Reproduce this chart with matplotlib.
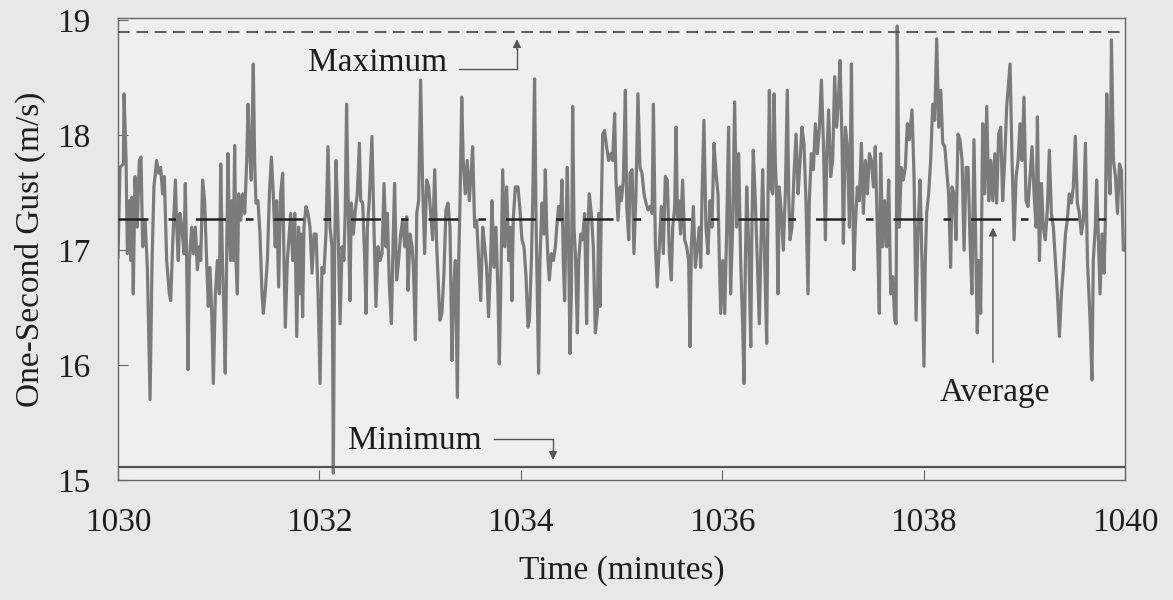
import matplotlib.pyplot as plt

# one-second gust record
# time in seconds after minute 1030, gust in m/s
t_sec = [
    0, 1.2, 3.2, 3.6, 4.8, 5.6, 6.8, 7.7, 8.3, 9.1, 10.1, 11.5, 12.7, 13.7, 14.7, 16.1,
    17.5, 19.1, 20.3, 21.4, 23.0, 24.2, 25.4, 26.6, 27.6, 29.0, 30.6, 31.4, 32.6, 34.2,
    35.0, 35.9, 36.9, 38.1, 39.3, 40.1, 40.9, 41.7, 42.5, 43.9, 44.9, 46.1, 47.3, 48.5,
    49.3, 50.4, 51.6, 52.8, 53.8, 54.8, 55.8, 56.8, 58.0, 59.2, 60.4, 61.2, 62.2, 63.1,
    63.9, 64.7, 65.5, 66.3, 67.1, 67.9, 68.7, 69.5, 70.3, 71.1, 71.9, 73.1, 74.3, 75.5,
    76.7, 77.5, 78.2, 79.4, 80.6, 81.4, 82.2, 83.4, 84.6, 85.8, 86.6, 87.8, 89.0, 90.2,
    91.4, 92.5, 93.7, 94.5, 95.7, 96.9, 98.1, 98.9, 99.7, 100.9,
    102.9, 104.1, 105.3, 106.5, 107.6, 108.4, 109.2, 110.0, 110.8, 112.0, 113.2, 114.4,
    115.6, 116.8, 118.0, 119.2, 120.4, 121.5, 122.7, 123.9, 125.1, 126.3, 127.5, 128.3,
    129.1, 129.9, 131.1, 132.3, 133.5, 134.6, 135.4, 136.2, 137.2, 138.2, 139.0, 140.2,
    141.4, 142.6, 143.8, 144.6, 145.8, 147.0, 147.8, 148.6, 149.7, 151.3, 152.5, 153.7,
    154.9, 156.1, 157.3, 158.5, 159.7, 160.5, 161.7, 162.9, 164.0, 164.8, 166.0, 167.2,
    168.4, 169.6, 170.8, 172.0, 172.8, 174.0, 175.2, 176.0, 177.2, 178.0, 179.1, 180.3,
    181.5, 182.7, 183.9, 185.1, 186.3, 187.5, 188.7, 189.9, 191.1, 191.8, 193.0, 194.2,
    195.4, 196.6, 197.8, 199.0, 199.8, 201.0, 202.2, 203.0,
    203.8, 204.8, 205.7, 206.9, 208.1, 209.3, 210.5, 211.3, 212.5, 213.7, 214.9, 216.1,
    217.3, 218.5, 219.6, 220.8, 222.0, 222.8, 224.0, 225.2, 226.4, 227.2, 228.0, 229.2,
    230.4, 231.6, 232.8, 233.9, 234.7, 235.5, 236.7, 238.3, 239.5, 240.7, 241.9, 243.1,
    244.3, 245.1, 246.3, 247.1, 248.2, 249.0, 249.8, 250.6, 251.4, 252.6, 253.8, 254.6,
    255.4, 256.2, 257.0, 258.2, 259.4, 260.6, 261.4, 262.5, 263.7, 264.5, 265.3, 266.1,
    266.9, 267.7, 268.5, 269.3, 270.1, 270.9, 271.7, 272.5, 273.7, 274.5, 275.7, 276.8,
    278.0, 279.2, 280.0, 280.8, 282.0, 283.2, 284.4, 285.6, 286.4, 287.2, 287.9, 288.8,
    289.9, 291.1, 292.3, 293.5, 294.7, 295.9, 296.7, 297.9, 299.1, 299.9, 301.1, 302.3,
    303.1, 304.3,
    305.1, 306.3, 307.4, 308.6, 309.8, 311.0, 312.2, 313.4, 314.6, 315.8, 317.0, 318.2,
    319.0, 320.2, 321.3, 322.5, 323.7, 324.9, 326.1, 327.3, 328.5, 329.7, 330.5, 331.7,
    332.5, 333.3, 334.1, 335.2, 336.4, 337.6, 338.8, 340.0, 340.8, 341.6, 342.8, 344.0,
    345.2, 346.4, 347.2, 348.0, 349.1, 350.3, 351.5, 352.7, 353.9, 355.1, 356.3, 357.5,
    358.3, 359.1, 360.3, 361.5, 362.7, 363.8, 365.0, 366.2, 367.4, 368.6, 369.8, 371.0,
    372.2, 373.0, 373.8, 374.6, 375.8, 377.0, 377.7, 378.5, 379.7, 380.9, 382.1, 383.3,
    384.1, 385.3, 386.5, 387.3, 388.1, 388.9, 390.1, 390.9, 391.6, 392.4, 393.2, 394.0,
    395.2, 396.4, 397.6, 398.8, 399.6, 400.4, 401.6, 402.8, 404.0, 405.2,
    406.4, 407.5, 408.7, 409.9, 411.1, 411.9, 413.1, 414.3, 415.5, 416.7, 417.9, 419.1,
    420.3, 421.5, 422.2, 423.4, 424.6, 425.8, 427.0, 428.2, 429.4, 430.2, 431.4, 432.2,
    433.4, 434.6, 435.8, 437.0, 437.7, 438.5, 439.3, 440.5, 441.7, 442.9, 444.1, 445.3,
    446.5, 447.7, 448.9, 450.1, 451.2, 452.4, 453.6, 454.4, 455.6, 456.8, 458.0, 459.2,
    460.4, 461.6, 462.8, 463.6, 464.3, 465.5, 466.7, 467.9, 469.1, 470.3, 471.5, 473.1,
    474.3, 475.5, 476.7, 477.9, 479.0, 480.2, 481.0, 481.8, 483.0, 484.2, 485.4, 486.6,
    487.8, 489.0, 490.2, 491.4, 492.6, 493.7, 494.9, 496.1, 496.9, 498.1, 499.3, 500.5,
    501.7, 502.9, 504.1, 505.3, 506.5,
    507.7, 508.8, 510.0, 511.2, 512.0, 512.8, 514.0, 515.2, 516.4, 517.6, 518.8, 520.0,
    521.2, 522.4, 523.5, 524.7, 525.9, 527.1, 528.3, 529.5, 531.5, 532.7, 533.9, 535.1,
    536.3, 537.4, 538.6, 539.8, 541.0, 542.2, 543.4, 544.6, 545.8, 547.0, 547.8, 549.0,
    550.2, 551.3, 552.5, 553.7, 554.9, 556.1, 557.3, 558.5, 559.7, 560.9, 562.1, 563.3,
    564.5, 565.6, 566.8, 568.0, 569.2, 570.4, 571.6, 572.8, 574.0, 575.2, 576.4, 577.6,
    579.2, 580.3, 581.1, 582.3, 583.1, 584.3, 585.1, 586.3, 587.5, 588.3, 589.1, 590.3,
    591.1, 591.9, 593.1, 594.3, 595.5, 596.7, 597.8, 599.0, 600.0,
]
gust = [
    16.94, 17.72, 17.75, 18.36, 17.78, 16.97, 17.43, 16.91, 17.46, 16.62, 17.64, 17.20, 17.78, 17.81, 17.03, 17.26,
    16.85, 15.70, 16.91, 17.55, 17.78, 17.67, 17.72, 17.49, 17.64, 16.91, 16.62, 16.56, 17.06, 17.61,
    17.20, 16.91, 17.32, 17.20, 16.97, 17.58, 16.91, 15.96, 16.91, 17.20, 16.97, 17.20, 16.83, 17.03,
    16.91, 17.61, 17.43, 16.91, 16.51, 16.85, 16.48, 15.84, 16.62, 16.91, 16.62, 17.75, 16.91, 16.45,
    15.93, 16.91, 17.84, 17.20, 16.91, 17.43, 16.91, 17.91, 16.91, 16.62, 17.49, 17.26, 17.49, 17.32,
    17.78, 18.27, 17.93, 17.61, 18.62, 17.78, 17.41, 17.43, 17.14, 16.62, 16.45, 16.65, 16.91, 17.49,
    17.81, 17.49, 17.03, 17.43, 16.68, 17.49, 17.67, 16.91, 16.33, 16.91,
    17.32, 16.91, 17.32, 16.25, 17.20, 16.62, 17.14, 16.42, 17.20, 17.38, 17.32, 17.20,
    16.80, 17.14, 17.14, 16.62, 15.84, 16.85, 16.80, 17.14, 17.90, 17.20, 17.03, 15.06,
    17.03, 17.78, 17.20, 16.36, 17.03, 16.91, 17.35, 18.27, 17.35, 16.56, 17.41, 17.14,
    17.35, 17.49, 17.93, 17.43, 17.41, 16.91, 16.45, 17.20, 17.43, 17.99, 17.20, 16.51,
    17.03, 16.91, 16.97, 17.58, 17.03, 17.32, 16.68, 16.36, 17.14, 17.58, 16.74, 16.91,
    17.14, 17.26, 17.03, 17.29, 16.65, 17.14, 17.03, 16.85, 16.22, 17.32, 17.43, 18.48,
    17.55, 16.97, 17.61, 17.55, 17.32, 17.09, 17.70, 17.03, 16.62, 16.39, 16.45, 16.80,
    17.35, 17.41, 17.20, 16.04, 16.62, 16.91, 15.72, 16.91,
    17.43, 18.33, 17.78, 17.49, 17.78, 17.43, 17.70, 17.90, 17.20, 17.26, 16.91, 16.56,
    17.20, 17.03, 16.85, 16.42, 16.91, 17.43, 16.85, 17.20, 16.62, 16.01, 16.62, 17.70,
    17.03, 17.55, 16.91, 17.20, 16.56, 17.26, 17.55, 17.55, 17.35, 17.09, 17.03, 16.77,
    16.33, 16.39, 16.91, 17.43, 18.49, 17.35, 16.62, 15.93, 16.91, 17.41, 17.14, 17.70,
    17.20, 16.91, 16.74, 16.97, 16.91, 17.03, 17.20, 17.38, 17.26, 17.61, 16.91, 16.56,
    17.20, 17.72, 17.03, 16.10, 16.62, 18.25, 17.20, 16.97, 16.28, 16.91, 17.14, 17.09,
    17.32, 16.36, 17.20, 17.49, 17.32, 17.03, 16.28, 16.45, 17.32, 16.51, 17.32, 18.01,
    18.04, 17.90, 17.78, 17.84, 17.78, 18.19, 17.61, 17.26, 17.55, 17.43, 17.61, 18.39,
    17.38, 17.09,
    17.67, 17.70, 16.97, 17.49, 18.36, 17.72, 17.67, 17.49, 17.41, 17.35, 17.38, 17.32,
    18.27, 17.03, 16.68, 17.03, 17.38, 16.97, 17.64, 17.61, 16.97, 16.74, 17.20, 17.38,
    18.07, 17.29, 17.43, 17.14, 17.61, 17.09, 17.03, 16.91, 16.16, 17.03, 17.38, 16.85,
    17.03, 17.20, 16.85, 17.49, 18.13, 17.20, 16.97, 17.43, 17.20, 17.93, 17.67, 17.49,
    16.91, 16.45, 16.91, 16.45, 17.20, 18.07, 16.62, 17.20, 18.29, 17.20, 17.84, 16.91,
    16.33, 15.84, 16.91, 17.55, 17.03, 16.16, 17.20, 17.87, 17.43, 16.91, 16.36, 17.20,
    17.70, 16.91, 16.19, 17.49, 18.39, 17.55, 17.49, 18.36, 17.78, 17.49, 16.62, 17.55,
    17.32, 17.00, 17.49, 18.39, 17.49, 17.09, 17.20, 17.67, 18.01, 17.49,
    17.78, 18.07, 17.93, 17.43, 16.62, 17.43, 17.84, 17.70, 18.10, 17.84, 18.07, 18.48,
    17.93, 17.09, 17.78, 18.22, 17.64, 17.78, 18.51, 18.07, 18.36, 18.65, 17.93, 17.06,
    18.07, 17.90, 17.20, 18.62, 17.49, 16.83, 17.20, 17.55, 17.43, 17.93, 17.32, 17.78,
    17.49, 17.84, 17.78, 17.55, 17.90, 17.20, 16.45, 17.84, 17.03, 17.43, 17.03, 17.61,
    16.62, 16.77, 16.39, 16.36, 18.95, 17.20, 17.72, 17.61, 17.72, 18.10, 17.96, 18.22,
    17.64, 16.39, 17.20, 17.61, 16.91, 15.99, 16.91, 17.32, 17.49, 17.78, 18.27, 18.13,
    18.84, 18.07, 18.39, 17.93, 17.90, 17.70, 17.49, 16.85, 17.55, 17.49, 17.09, 18.01,
    17.96, 17.78, 17.00, 17.72, 17.72,
    17.06, 16.62, 17.96, 16.91, 16.28, 16.91, 16.45, 18.10, 17.49, 18.25, 17.43, 17.78,
    17.43, 17.84, 17.41, 18.01, 18.07, 17.43, 17.78, 18.25, 18.62, 17.78, 17.09, 17.64,
    17.78, 18.10, 17.78, 18.33, 17.43, 17.38, 17.64, 17.90, 17.49, 17.20, 18.16, 16.91,
    17.58, 17.20, 17.09, 17.35, 17.87, 17.32, 17.20, 16.91, 16.62, 16.25, 16.62, 16.85,
    17.14, 17.26, 17.49, 17.41, 17.55, 17.99, 17.41, 17.32, 17.14, 17.26, 17.93, 16.91,
    16.39, 15.87, 16.91, 17.20, 17.61, 17.03, 16.62, 17.14, 16.80, 17.26, 18.36, 17.72,
    17.49, 18.83, 17.78, 17.64, 17.32, 17.75, 17.70, 17.00, 17.00,
]

gust_max = 18.9
gust_min = 15.11
gust_avg = 17.27

time_min = [1030 + s / 60 for s in t_sec]

plt.rcParams['font.family'] = ['Liberation Serif', 'DejaVu Serif']
txt = '#1e1e1e'
fs = 24

fig = plt.figure(figsize=(11.73, 6.0), dpi=100, facecolor='#e8e8e8')
ax = fig.add_axes([0.1006, 0.2, 0.8585, 0.77])
ax.set_facecolor('#efefef')

ax.plot(time_min, gust, color='#7b7b7b', lw=2.3, zorder=2)
ax.axhline(gust_max, color='#444444', lw=1.2, ls=(0, (7, 4)), zorder=3)
ax.axhline(gust_min, color='#555555', lw=1.6, zorder=3)
ax.axhline(gust_avg, color='#222222', lw=1.8, ls=(0, (12, 8, 3, 8)), zorder=3)

# labels with bent arrows
ax.text(1030 + 154.5 / 60, 18.63, 'Maximum', fontsize=fs, color=txt, ha='center', va='center')
ax.plot([1030 + 203 / 60, 1030 + 237.7 / 60, 1030 + 237.7 / 60], [18.58, 18.58, 18.75],
        color='#555555', lw=1.0)
ax.annotate('', xy=(1030 + 237.7 / 60, 18.86), xytext=(1030 + 237.7 / 60, 18.72),
            arrowprops=dict(arrowstyle='-|>', color='#555555', lw=1.0, mutation_scale=12))

ax.text(1030 + 177 / 60, 15.34, 'Minimum', fontsize=fs, color=txt, ha='center', va='center')
ax.plot([1030 + 224 / 60, 1030 + 259.2 / 60, 1030 + 259.2 / 60], [15.36, 15.36, 15.25],
        color='#555555', lw=1.0)
ax.annotate('', xy=(1030 + 259.2 / 60, 15.15), xytext=(1030 + 259.2 / 60, 15.28),
            arrowprops=dict(arrowstyle='-|>', color='#555555', lw=1.0, mutation_scale=12))

ax.text(1030 + 522.5 / 60, 15.76, 'Average', fontsize=fs, color=txt, ha='center', va='center')
ax.annotate('', xy=(1030 + 521.3 / 60, 17.22), xytext=(1030 + 521.3 / 60, 16.0),
            arrowprops=dict(arrowstyle='-|>', color='#555555', lw=1.0, mutation_scale=12))

ax.set_xlim(1030, 1040)
ax.set_ylim(15, 19.02)
ax.set_xticks([1030, 1032, 1034, 1036, 1038, 1040])
ax.set_yticks([15, 16, 17, 18, 19])
ax.tick_params(direction='in', length=7, width=0.8, color='#666666',
               labelsize=fs, labelcolor=txt)
ax.tick_params(axis='x', pad=20)
ax.tick_params(axis='y', pad=20)
for sp in ax.spines.values():
    sp.set_color('#666666')
    sp.set_linewidth(1.0)

ax.set_xlabel('Time (minutes)', fontsize=fs, color=txt, labelpad=12)
ax.set_ylabel('One-Second Gust (m/s)', fontsize=fs, color=txt, labelpad=8)

fig.savefig('out.png', dpi=100, facecolor=fig.get_facecolor())
